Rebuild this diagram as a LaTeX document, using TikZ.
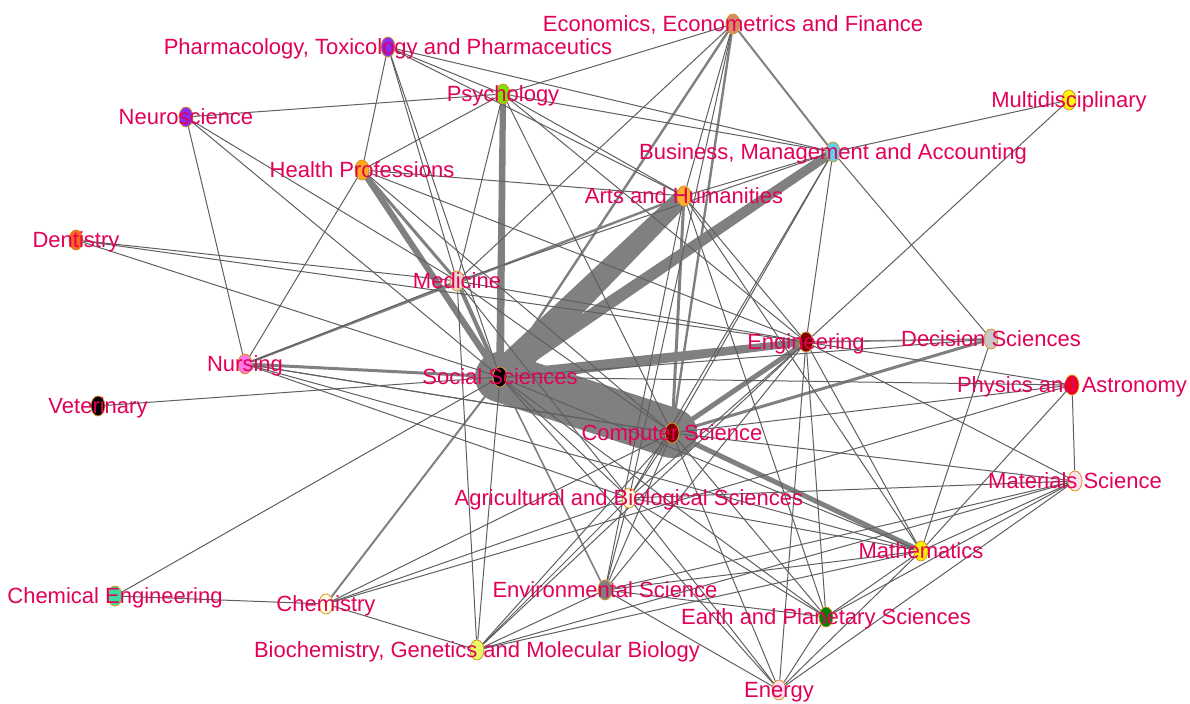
\documentclass[tikz,border=0pt]{standalone}
\usepackage{fontspec}
\setmainfont{Liberation Sans}
\usetikzlibrary{shapes.geometric, backgrounds, calc}

\definecolor{labred}{RGB}{226,0,88}
\definecolor{bandgray}{RGB}{128,128,128}
\definecolor{linegray}{RGB}{95,95,95}
\definecolor{rimcol}{RGB}{215,150,40}

\tikzset{
  dot/.style={ellipse, draw=rimcol, line width=0.4pt, minimum width=7pt, minimum height=10pt, inner sep=0pt},
  lab/.style={text=labred, font=\fontsize{11}{13}\selectfont, anchor=base, yshift=-3.75pt, inner sep=0pt},
  thinedge/.style={draw=linegray, line width=0.5pt},
  wideedge/.style={draw=bandgray}
}

% tapered band between two nodes: from, to, half width at from, half width at to
\newcommand{\edgeband}[4]{%
  \fill[bandgray] ($(#1.center)!#3!90:(#2.center)$) -- ($(#2.center)!#4!-90:(#1.center)$)
    -- ($(#2.center)!#4!90:(#1.center)$) -- ($(#1.center)!#3!-90:(#2.center)$) -- cycle;
  \fill[bandgray] (#1.center) circle[radius=#3];
  \fill[bandgray] (#2.center) circle[radius=#4];}

\begin{document}
\begin{tikzpicture}[x=0.5pt, y=-0.5pt]
\useasboundingbox (0,0) rectangle (1190,704);

% subject areas
\node[dot, fill={rgb,255:red,215;green,140;blue,100}] (econ) at (733,24) {};
\node[dot, fill={rgb,255:red,135;green,45;blue,245}] (pharm) at (388,47) {};
\node[dot, fill={rgb,255:red,128;green,224;blue,0}] (psych) at (503,94) {};
\node[dot, fill={rgb,255:red,135;green,45;blue,245}] (neuro) at (186,117) {};
\node[dot, fill={rgb,255:red,255;green,250;blue,0}] (multi) at (1069,100) {};
\node[dot, fill={rgb,255:red,90;green,210;blue,240}] (busi) at (833,152) {};
\node[dot, fill={rgb,255:red,255;green,170;blue,30}] (health) at (362,170) {};
\node[dot, fill={rgb,255:red,255;green,175;blue,40}] (arts) at (684,196) {};
\node[dot, fill={rgb,255:red,250;green,100;blue,30}] (dent) at (76,240) {};
\node[dot, fill={rgb,255:red,230;green,215;blue,215}] (med) at (457,281) {};
\node[dot, fill={rgb,255:red,128;green,0;blue,0}] (eng) at (806,342) {};
\node[dot, fill={rgb,255:red,200;green,200;blue,200}] (decis) at (991,339) {};
\node[dot, fill={rgb,255:red,255;green,120;blue,230}] (nurs) at (245,364) {};
\node[dot, fill=black] (soc) at (500,377) {};
\node[dot, fill={rgb,255:red,240;green,0;blue,30}] (phys) at (1072,385) {};
\node[dot, fill=black] (vet) at (98,406) {};
\node[dot, fill={rgb,255:red,128;green,0;blue,0}] (comp) at (672,433) {};
\node[dot, fill={rgb,255:red,255;green,225;blue,240}] (mat) at (1075,481) {};
\node[dot, fill={rgb,255:red,250;green,250;blue,215}] (agri) at (629,498) {};
\node[dot, fill={rgb,255:red,255;green,240;blue,0}] (math) at (921,551) {};
\node[dot, fill={rgb,255:red,60;green,220;blue,160}] (cheme) at (115,596) {};
\node[dot, fill={rgb,255:red,255;green,255;blue,225}] (chem) at (326,604) {};
\node[dot, fill={rgb,255:red,128;green,128;blue,128}] (env) at (605,590) {};
\node[dot, fill={rgb,255:red,0;green,128;blue,0}] (earth) at (826,617) {};
\node[dot, fill={rgb,255:red,230;green,250;blue,100}] (bio) at (477,650) {};
\node[dot, fill={rgb,255:red,255;green,225;blue,240}] (energy) at (779,690) {};

\begin{scope}[on background layer]
  % heavy links
  \edgeband{soc}{comp}{12.5pt}{12.5pt}
  \edgeband{soc}{arts}{7.5pt}{4.25pt}
  \edgeband{soc}{busi}{3.5pt}{2.2pt}
  \edgeband{soc}{eng}{3.25pt}{1.75pt}
  \edgeband{soc}{psych}{2pt}{1.5pt}
  \edgeband{soc}{health}{1.6pt}{1.5pt}
  \foreach \a/\b/\w in {health/med/1.5, med/soc/2, comp/math/2.5, comp/eng/2.5,
      comp/decis/1.5, comp/arts/1.5, nurs/soc/1.5, nurs/arts/1.2, soc/econ/1.2,
      econ/comp/1.2, econ/busi/1, soc/chem/1, soc/env/0.8, eng/decis/0.8}
    \draw[wideedge, line width=\w pt] (\a) -- (\b);
  % single links
  \foreach \a/\b in {neuro/psych, neuro/nurs, neuro/soc, neuro/med,
      pharm/health, pharm/med, pharm/soc, pharm/arts, pharm/busi, pharm/psych,
      dent/med, dent/soc, dent/eng, vet/soc, cheme/chem, cheme/soc,
      chem/bio, chem/agri, chem/comp, chem/phys,
      nurs/health, nurs/med, nurs/comp, nurs/agri, nurs/math,
      health/psych, health/arts, health/eng, health/comp,
      med/econ, med/psych, med/eng, med/bio, med/busi, med/comp, med/agri,
      psych/econ, psych/arts, psych/busi, psych/comp, psych/eng,
      econ/agri, econ/arts, arts/busi, arts/eng, arts/env, arts/math, arts/earth,
      busi/multi, busi/comp, busi/eng, busi/decis, busi/agri, multi/eng,
      eng/phys, eng/mat, eng/math, eng/earth, eng/energy, eng/env, eng/agri, eng/bio,
      decis/math, decis/soc, phys/mat, phys/math, phys/soc, phys/comp,
      mat/math, mat/earth, mat/energy, mat/env, mat/comp, mat/agri, mat/bio,
      math/earth, math/energy, math/env, math/bio, math/agri, math/soc,
      earth/comp, earth/energy, earth/env, earth/agri, earth/soc,
      energy/env, energy/comp, energy/agri, energy/soc,
      env/comp, env/agri, env/bio, agri/soc, agri/comp, agri/bio,
      bio/soc, bio/comp, comp/nurs}
    \draw[thinedge] (\a) -- (\b);
\end{scope}

% names
\node[lab] (econ-t) at (econ) {Economics, Econometrics and Finance};
\node[lab] (pharm-t) at (pharm) {Pharmacology, Toxicology and Pharmaceutics};
\node[lab] (psych-t) at (psych) {Psychology};
\node[lab] (neuro-t) at (neuro) {Neuroscience};
\node[lab] (multi-t) at (multi) {Multidisciplinary};
\node[lab] (busi-t) at (busi) {Business, Management and Accounting};
\node[lab] (health-t) at (health) {Health Professions};
\node[lab] (arts-t) at (arts) {Arts and Humanities};
\node[lab] (dent-t) at (dent) {Dentistry};
\node[lab] (med-t) at (med) {Medicine};
\node[lab] (eng-t) at (eng) {Engineering};
\node[lab] (decis-t) at (decis) {Decision Sciences};
\node[lab] (nurs-t) at (nurs) {Nursing};
\node[lab] (soc-t) at (soc) {Social Sciences};
\node[lab] (phys-t) at (phys) {Physics and Astronomy};
\node[lab] (vet-t) at (vet) {Veterinary};
\node[lab] (comp-t) at (comp) {Computer Science};
\node[lab] (mat-t) at (mat) {Materials Science};
\node[lab] (agri-t) at (agri) {Agricultural and Biological Sciences};
\node[lab] (math-t) at (math) {Mathematics};
\node[lab] (cheme-t) at (cheme) {Chemical Engineering};
\node[lab] (chem-t) at (chem) {Chemistry};
\node[lab] (env-t) at (env) {Environmental Science};
\node[lab] (earth-t) at (earth) {Earth and Planetary Sciences};
\node[lab] (bio-t) at (bio) {Biochemistry, Genetics and Molecular Biology};
\node[lab] (energy-t) at (energy) {Energy};
\end{tikzpicture}
\end{document}
